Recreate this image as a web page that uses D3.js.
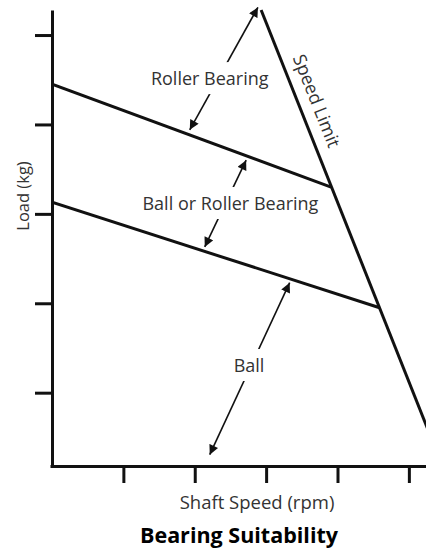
<!DOCTYPE html>
<html>
<head>
<meta charset="utf-8">
<script src="https://cdn.jsdelivr.net/npm/d3@7"></script>
<style>
  body { margin: 0; background: #fff; }
  text { font-family: "Open Sans", sans-serif; }
</style>
</head>
<body>
<svg id="canvas"></svg>
<script>
// chart values (rpm and load in abstract units)
const xTicks = [1, 2, 3, 4, 5]
const yTicks = [1, 2, 3, 4, 5]
const xDomain = [0, 5.24]
const yDomain = [0.18, 5.28]

const speedLimit = [{ rpm: 2.93, load: 5.28 }, { rpm: 5.5, load: 0.12 }]
const rollerLimit = [{ rpm: 0, load: 4.45 }, { rpm: 3.91, load: 3.30 }]
const ballLimit = [{ rpm: 0, load: 3.13 }, { rpm: 4.59, load: 1.95 }]

const arrows = [
  { name: "Roller Bearing", from: { rpm: 1.93, load: 3.94 }, to: { rpm: 2.885, load: 5.31 }, label: { rpm: 2.21, load: 4.44 } },
  { name: "Ball or Roller Bearing", from: { rpm: 2.14, load: 2.63 }, to: { rpm: 2.72, load: 3.60 }, label: { rpm: 2.50, load: 3.043 } },
  { name: "Ball", from: { rpm: 3.33, load: 2.23 }, to: { rpm: 2.21, load: 0.307 }, label: { rpm: 2.76, load: 1.231 } }
]

const width = 426
const height = 557

const svg = d3.select("#canvas").attr("width", width).attr("height", height)

const x = d3.scaleLinear().domain(xDomain).range([52, 426])
const y = d3.scaleLinear().domain(yDomain).range([466, 10])

const defs = svg.append("defs")
defs.append("clipPath").attr("id", "plot")
  .append("rect").attr("x", 52).attr("y", 0).attr("width", 374).attr("height", 466)

defs.append("marker")
  .attr("id", "head")
  .attr("viewBox", "0 0 10 10")
  .attr("refX", 10).attr("refY", 5)
  .attr("markerWidth", 6.5).attr("markerHeight", 6)
  .attr("markerUnits", "strokeWidth")
  .attr("orient", "auto-start-reverse")
  .append("path").attr("d", "M0,0L10,5L0,10z").attr("fill", "#111")

const line = d3.line().x(d => x(d.rpm)).y(d => y(d.load))

// boundary lines
const bounds = svg.append("g").attr("clip-path", "url(#plot)")
;[speedLimit, rollerLimit, ballLimit].forEach(pts => {
  bounds.append("path").attr("d", line(pts))
    .attr("fill", "none").attr("stroke", "#111").attr("stroke-width", 3)
})

// arrows + labels
const ann = svg.append("g")
arrows.forEach(a => {
  ann.append("path").attr("d", line([a.from, a.to]))
    .attr("stroke", "#111").attr("stroke-width", 1.6).attr("fill", "none")
    .attr("marker-start", "url(#head)").attr("marker-end", "url(#head)")
  const t = ann.append("text")
    .attr("x", x(a.label.rpm)).attr("y", y(a.label.load))
    .attr("text-anchor", "middle")
    .attr("font-size", 18).attr("fill", "#333")
    .text(a.name)
  const b = t.node().getBBox()
  ann.insert("rect", () => t.node())
    .attr("x", b.x - 3).attr("y", b.y - 4)
    .attr("width", b.width + 6).attr("height", b.height + 8)
    .attr("fill", "#fff")
})

// Speed Limit label along the line
const p0 = { x: x(speedLimit[0].rpm), y: y(speedLimit[0].load) }
const p1 = { x: x(speedLimit[1].rpm), y: y(speedLimit[1].load) }
const ang = Math.atan2(p1.y - p0.y, p1.x - p0.x)
const ux = Math.cos(ang), uy = Math.sin(ang)
const along = 105, off = 18
svg.append("text")
  .attr("transform", `translate(${p0.x + ux * along + uy * off},${p0.y + uy * along - ux * off}) rotate(${ang * 180 / Math.PI})`)
  .attr("text-anchor", "middle").attr("dy", "0.35em")
  .attr("font-size", 18).attr("fill", "#333")
  .text("Speed Limit")

// axes
svg.append("g").attr("transform", "translate(52,0)")
  .call(d3.axisLeft(y).tickValues(yTicks).tickFormat("").tickSize(17).tickSizeOuter(0))
  .call(g => g.selectAll("line, path").attr("stroke", "#111").attr("stroke-width", 3))

svg.append("g").attr("transform", "translate(0,466)")
  .call(d3.axisBottom(x).tickValues(xTicks).tickFormat("").tickSize(17).tickSizeOuter(0))
  .call(g => g.selectAll("line, path").attr("stroke", "#111").attr("stroke-width", 3))
  .call(g => g.select(".domain").attr("d", "M50.5,0.5H426"))

svg.append("text")
  .attr("transform", "translate(29,196) rotate(-90)")
  .attr("text-anchor", "middle").attr("font-size", 16.5).attr("fill", "#333")
  .text("Load (kg)")

svg.append("text")
  .attr("x", 257).attr("y", 509)
  .attr("text-anchor", "middle").attr("font-size", 18.5).attr("fill", "#333")
  .text("Shaft Speed (rpm)")

svg.append("text")
  .attr("x", 239).attr("y", 543)
  .attr("text-anchor", "middle").attr("font-size", 21.5).attr("font-weight", "bold").attr("fill", "#000")
  .text("Bearing Suitability")
</script>
</body>
</html>
